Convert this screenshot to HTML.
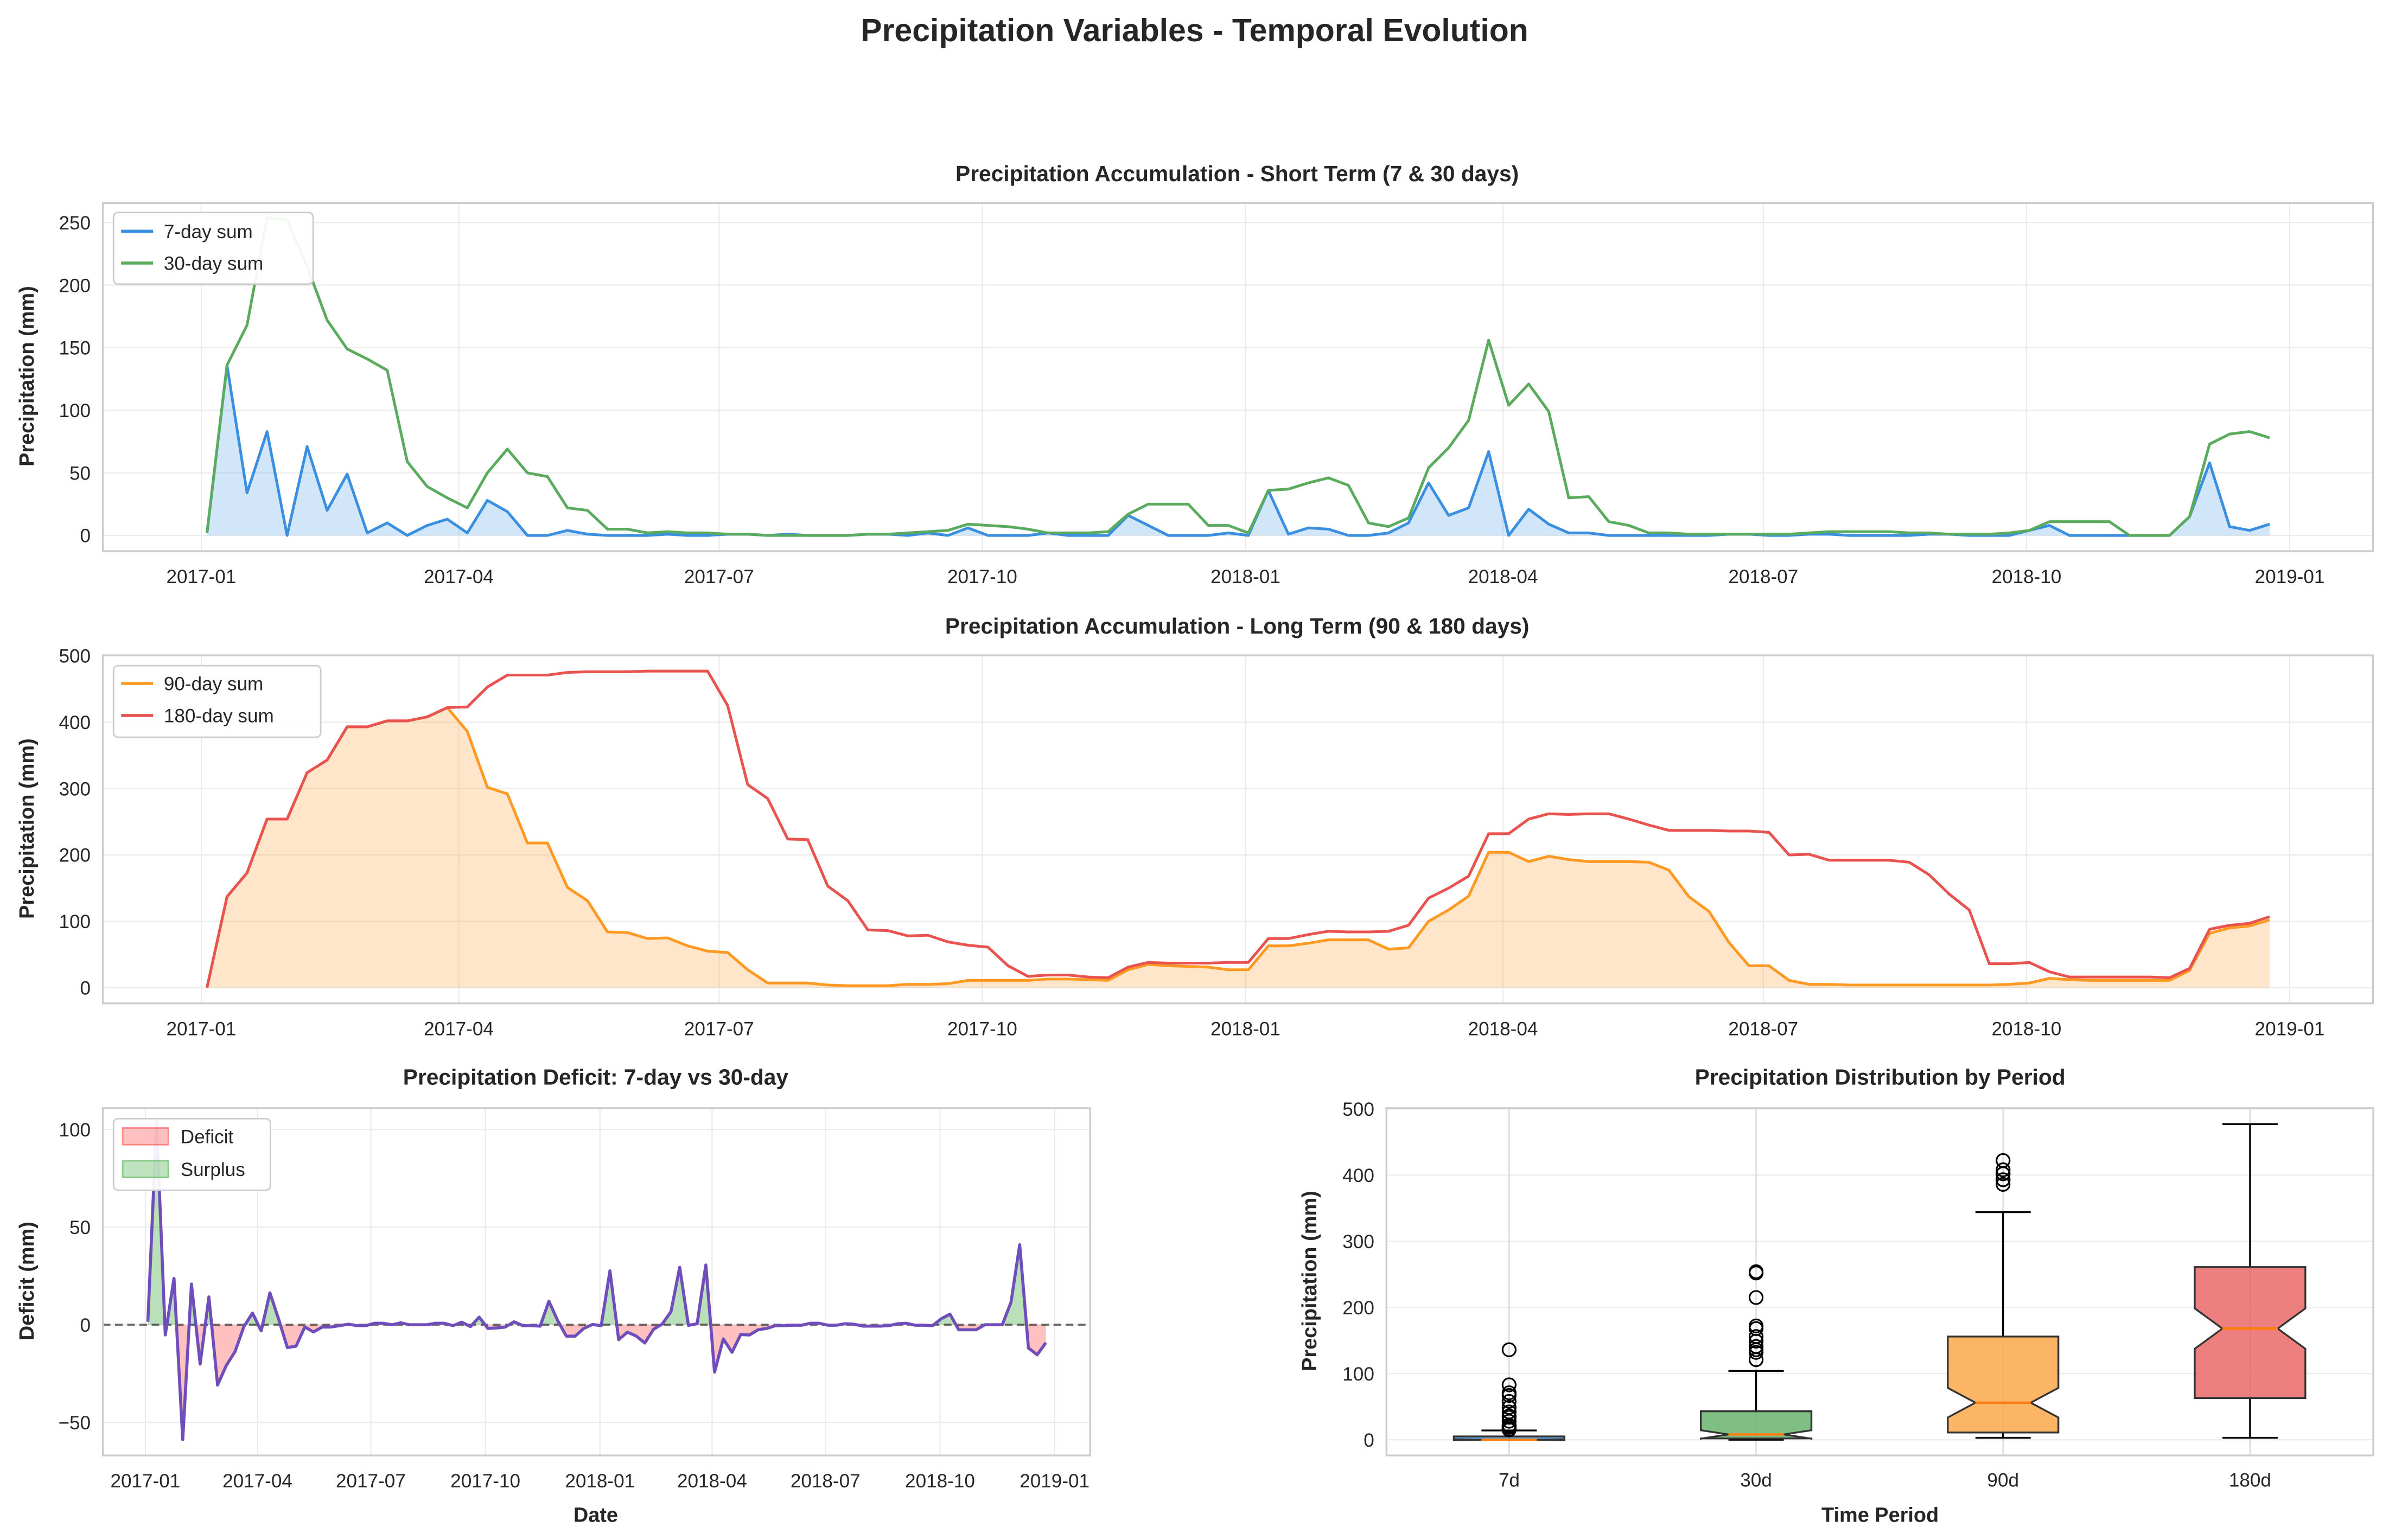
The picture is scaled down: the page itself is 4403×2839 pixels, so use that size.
<!DOCTYPE html>
<html><head><meta charset="utf-8"><title>Precipitation Variables</title>
<style>
html,body{margin:0;padding:0;background:#fff;}
svg{display:block;font-family:"Liberation Sans",Arial,sans-serif;}
</style></head>
<body>
<svg id="fig" width="4403" height="2839" viewBox="0 0 1568 1011" xmlns="http://www.w3.org/2000/svg">
<rect x="0" y="0" width="1568" height="1011" fill="#fff"/>
<text x="784" y="27" text-anchor="middle" font-size="21" font-weight="bold" fill="#262626">Precipitation Variables - Temporal Evolution</text>
<g id="g1"></g>
<g id="g2"></g>
<g id="g3"></g>
<g id="g4"></g>
</svg>
<script>
const d7 = [2,136,34,83,0,71,20,49,2,10, 0,8,13,2,28,19,0,0,4,1, 0,0,0,1,0,0,1,1,0,1, 0,0,0,1,1,0,2,0,6,0, 0,0,2,0,0,0,16,8,0,0, 0,2,0,36,1,6,5,0,0,2, 10,42,16,22,67,0,21,9,2,2, 0,0,0,0,0,0,1,1,0,0, 1,1,0,0,0,0,1,1,0,0, 0,4,8,0,0,0,0,0,0,15, 58,7,4,9];
const d30 = [2,136,168,254,252,215,172,149,141,132, 59,39,30,22,50,69,50,47,22,20, 5,5,2,3,2,2,1,1,0,0, 0,0,0,1,1,2,3,4,9,8, 7,5,2,2,2,3,17,25,25,25, 8,8,2,36,37,42,46,40,10,7, 14,54,70,92,156,104,121,99,30,31, 11,8,2,2,1,1,1,1,1,1, 2,3,3,3,3,2,2,1,1,1, 2,4,11,11,11,11,0,0,0,15, 73,81,83,78];
const d90 = [0,137,173,254,254,324,343,393,393,402, 402,408,422,386,302,292,218,218,151,131, 84,83,74,75,63,55,53,27,7,7, 7,4,3,3,3,5,5,6,11,11, 11,11,13,13,12,11,27,35,33,32, 31,27,27,63,63,67,72,72,72,58, 60,100,117,138,204,204,190,198,193,190, 190,190,189,177,137,115,68,33,33,11, 5,5,4,4,4,4,4,4,4,4, 5,7,14,12,11,11,11,11,11,26, 82,90,93,102];
const d180 = [0,137,173,254,254,324,343,393,393,402, 402,408,422,423,453,471,471,471,475,476, 476,476,477,477,477,477,425,306,285,224, 223,153,131,87,86,78,79,69,64,61, 33,17,19,19,16,15,31,38,37,37, 37,38,38,74,74,80,85,84,84,85, 94,135,150,168,232,232,254,262,261,262, 262,254,245,237,237,237,236,236,234,200, 201,192,192,192,192,189,170,141,117,36, 36,38,24,16,16,16,16,16,15,29, 88,94,97,107];
const startDay = 2, stepDays = 7; // days since 2017-01-01
const dateTickLabels = ["2017-01","2017-04","2017-07","2017-10","2018-01","2018-04","2018-07","2018-10","2019-01"];
const dateTickDays = [0,90,181,273,365,455,546,638,730];
const boxCats = ["7d","30d","90d","180d"];
const boxQ1 = [0,2,11,63];
const boxMed = [0,8,56,168];
const boxQ3 = [5,43,156,261];
const boxLo = [0,0,3,3];
const boxHi = [14,104,344,477];
const shortTicks = [0,50,100,150,200,250];
const longTicks = [0,100,200,300,400,500];
const defTicks = [-50,0,50,100];
const boxTicks = [0,100,200,300,400,500];

const NS = "http://www.w3.org/2000/svg";
function mk(parent, tag, attrs){const e=document.createElementNS(NS,tag);for(const k in attrs)e.setAttribute(k,attrs[k]);parent.appendChild(e);return e;}
function txt(parent, x, y, s, size, anchor, weight, extra){const t=mk(parent,"text",{x:x,y:y,"font-size":size,"text-anchor":anchor||"middle","font-weight":weight||"normal",fill:"#262626"});if(extra)for(const k in extra)t.setAttribute(k,extra[k]);t.textContent=s;return t;}
const N = d7.length;
const dayOf = i => startDay + stepDays*i;

function timePanel(g, box, ymin, ymax, yticks, xs){
  const ys = v => box.b0 - (v)*box.k;
  mk(g,"rect",{x:box.l,y:box.t,width:box.r-box.l,height:box.b-box.t,fill:"#fff"});
  dateTickDays.forEach((d,i)=>{const x=xs(d);
    const gl=mk(g,"line",{x1:x,x2:x,y1:box.t,y2:box.b,stroke:"#ebebeb","stroke-width":0.8});
    
    
    const t=txt(g,x,box.b+box.tickDy,dateTickLabels[i],box.fs||12.5,"middle");
    
    
  });
  yticks.forEach(v=>{const y=ys(v); if(y<box.t-1||y>box.b+1)return;
    const gl=mk(g,"line",{x1:box.l,x2:box.r,y1:y,y2:y,stroke:"#ebebeb","stroke-width":0.8});
    
    
    const t=txt(g,box.l-8,y+4.5,String(v).replace("-","−"),box.fs||12.5,"end");
    
    
  });
  return ys;
}
function linePts(arr, xs, ys){return arr.map((v,i)=>xs(dayOf(i)).toFixed(2)+","+ys(v).toFixed(2)).join(" ");}
function areaPts(arr, xs, ys){return xs(dayOf(0)).toFixed(2)+","+ys(0)+" "+linePts(arr,xs,ys)+" "+xs(dayOf(N-1)).toFixed(2)+","+ys(0);}
function frame(g,box){const f=mk(g,"rect",{x:box.l,y:box.t,width:box.r-box.l,height:box.b-box.t,fill:"none",stroke:"#cccccc","stroke-width":1.2});
  
  }
function legend(g, x, y, w, h, entries){
  const r=mk(g,"rect",{x:x,y:y,width:w,height:h,rx:3,fill:"#fff","fill-opacity":0.92,stroke:"#cccccc","stroke-width":1});
  
  
  entries.forEach(e=>{
    const eg=mk(g,"g",{});
    
    
    if(e.patch){mk(eg,"rect",{x:x+6,y:e.y-5.5,width:30,height:11,fill:e.color,"fill-opacity":0.3,stroke:e.color,"stroke-opacity":0.5,"stroke-width":1});}
    else {mk(eg,"line",{x1:x+5,x2:x+26,y1:e.y,y2:e.y,stroke:e.color,"stroke-width":2});}
    txt(eg,x+(e.patch?44:33),e.y+4.5,e.label,12.5,"start");
  });
}

// ---------- Panel 1
(function(){
  const g=document.getElementById("g1");
  const box={l:67.5,r:1557.5,t:133.3,b:361.8,b0:351.5,k:0.8216,tickDy:21};
  const xs=d=>132.1+1.8777*d;
  const ys=timePanel(g,box,0,260,shortTicks,xs);
  const a=mk(g,"polygon",{points:areaPts(d7,xs,ys),fill:"#4a9be6","fill-opacity":0.25});
  
  
  const l1=mk(g,"polyline",{points:linePts(d7,xs,ys),fill:"none",stroke:"#3a8fe0","stroke-width":1.8,"stroke-linejoin":"round"});
  
  
  const l2=mk(g,"polyline",{points:linePts(d30,xs,ys),fill:"none",stroke:"#5aab5e","stroke-width":1.8,"stroke-linejoin":"round"});
  
  
  frame(g,box);
  legend(g,74.5,139.5,131,47,[{y:151.8,label:"7-day sum",color:"#3a8fe0"},{y:172.7,label:"30-day sum",color:"#5aab5e"}]);
  txt(g,812,119,"Precipitation Accumulation - Short Term (7 & 30 days)",14.5,"middle","bold",{});
  txt(g,0,0,"Precipitation (mm)",13.5,"middle","bold",{transform:"translate(22,247) rotate(-90)",});
})();

// ---------- Panel 2
(function(){
  const g=document.getElementById("g2");
  const box={l:67.5,r:1557.5,t:430.2,b:658.7,b0:648.4,k:0.4357,tickDy:21};
  const xs=d=>132.1+1.8777*d;
  const ys=timePanel(g,box,0,500,longTicks,xs);
  const a=mk(g,"polygon",{points:areaPts(d90,xs,ys),fill:"#ff9a2e","fill-opacity":0.25});
  
  
  const l1=mk(g,"polyline",{points:linePts(d90,xs,ys),fill:"none",stroke:"#ff9922","stroke-width":1.8,"stroke-linejoin":"round"});
  
  
  const l2=mk(g,"polyline",{points:linePts(d180,xs,ys),fill:"none",stroke:"#e8524f","stroke-width":1.8,"stroke-linejoin":"round"});
  
  
  frame(g,box);
  legend(g,74.5,437,136,47,[{y:448.7,label:"90-day sum",color:"#ff9922"},{y:469.7,label:"180-day sum",color:"#e8524f"}]);
  txt(g,812,416,"Precipitation Accumulation - Long Term (90 & 180 days)",14.5,"middle","bold",{});
  txt(g,0,0,"Precipitation (mm)",13.5,"middle","bold",{transform:"translate(22,544) rotate(-90)",});
})();

// ---------- Panel 3 (deficit derived from 7-day and 30-day arrays)
(function(){
  const g=document.getElementById("g3");
  const def=d7.map((v,i)=>v-d30[i]*7/30);
  const box={l:67.5,r:715.5,t:727.5,b:955.5,b0:869.7,k:1.282,tickDy:21};
  const xs=d=>95.4+0.8175*d;
  const ys=timePanel(g,box,-66,111,defTicks,xs);
  const defs=mk(g,"defs",{});
  const c1=mk(defs,"clipPath",{id:"above"});mk(c1,"rect",{x:0,y:0,width:1568,height:ys(0)});
  const c2=mk(defs,"clipPath",{id:"below"});mk(c2,"rect",{x:0,y:ys(0),width:1568,height:400});
  const pos=mk(g,"polygon",{points:areaPts(def,xs,ys),fill:"#2ca02c","fill-opacity":0.33,"clip-path":"url(#above)"});
  
  
  const neg=mk(g,"polygon",{points:areaPts(def,xs,ys),fill:"#ff3030","fill-opacity":0.3,"clip-path":"url(#below)"});
  
  
  const z=mk(g,"line",{x1:box.l,x2:box.r,y1:ys(0),y2:ys(0),stroke:"#000","stroke-opacity":0.55,"stroke-width":1.4,"stroke-dasharray":"5,3"});
  
  
  const l=mk(g,"polyline",{points:linePts(def,xs,ys),fill:"none",stroke:"#6f4ebc","stroke-width":2,"stroke-linejoin":"round"});
  
  
  frame(g,box);
  legend(g,74.5,734.4,103,47,[{y:746,label:"Deficit",color:"#ff3030",patch:true},{y:767.5,label:"Surplus",color:"#2ca02c",patch:true}]);
  txt(g,391,712,"Precipitation Deficit: 7-day vs 30-day",14.5,"middle","bold",{});
  txt(g,391,999,"Date",13.5,"middle","bold",{});
  txt(g,0,0,"Deficit (mm)",13.5,"middle","bold",{transform:"translate(22,841) rotate(-90)",});
})();

// ---------- Panel 4 boxplot
(function(){
  const g=document.getElementById("g4");
  const box={l:910,r:1557.7,t:727.5,b:955.5};
  const ys=v=>945.2-v*0.4344;
  const xc=i=>990.5+162.1*i;
  const hw=36.3;
  const series=[d7,d30,d90,d180];
  const fills=["#4a90d9","#6ab46e","#fba84a","#ea6a68"];
  mk(g,"rect",{x:box.l,y:box.t,width:box.r-box.l,height:box.b-box.t,fill:"#fff"});
  boxTicks.forEach(v=>{const y=ys(v);
    const gl=mk(g,"line",{x1:box.l,x2:box.r,y1:y,y2:y,stroke:"#ebebeb","stroke-width":0.8});
    
    
    const t=txt(g,box.l-8,y+4.5,String(v),12.5,"end");
    
    
  });
  boxCats.forEach((c,i)=>{const x=xc(i);
    const gl=mk(g,"line",{x1:x,x2:x,y1:box.t,y2:box.b,stroke:"#d5d5d5","stroke-width":0.8});
    
    
    const t=txt(g,x,976,c,12.5,"middle");
    
    
  });
  boxCats.forEach((c,i)=>{
    const bg=mk(g,"g",{});
    
    
    const x=xc(i), q1=boxQ1[i], q3=boxQ3[i], md=boxMed[i];
    const nh=1.57*(q3-q1)/Math.sqrt(series[i].length);
    const nlo=md-nh, nhi=md+nh;
    mk(bg,"line",{x1:x,x2:x,y1:ys(q1),y2:ys(boxLo[i]),stroke:"#000","stroke-width":1.2});
    mk(bg,"line",{x1:x,x2:x,y1:ys(q3),y2:ys(boxHi[i]),stroke:"#000","stroke-width":1.2});
    mk(bg,"line",{x1:x-hw/2,x2:x+hw/2,y1:ys(boxLo[i]),y2:ys(boxLo[i]),stroke:"#000","stroke-width":1.2});
    mk(bg,"line",{x1:x-hw/2,x2:x+hw/2,y1:ys(boxHi[i]),y2:ys(boxHi[i]),stroke:"#000","stroke-width":1.2});
    const L=x-hw,R=x+hw;
    const pts=[[L,q1],[R,q1],[R,nlo],[x+hw/2,md],[R,nhi],[R,q3],[L,q3],[L,nhi],[x-hw/2,md],[L,nlo]];
    mk(bg,"polygon",{points:pts.map(p=>p[0].toFixed(2)+","+ys(p[1]).toFixed(2)).join(" "),fill:fills[i],"fill-opacity":0.85,stroke:"#333","stroke-width":1.2});
    mk(bg,"line",{x1:x-hw/2,x2:x+hw/2,y1:ys(md),y2:ys(md),stroke:"#ff7f0e","stroke-width":1.6});
    series[i].forEach(v=>{ if(v>boxHi[i]){
      const f=mk(bg,"circle",{cx:x,cy:ys(v),r:4.3,fill:"none",stroke:"#000","stroke-width":1.1});
      
      
    }});
  });
  const f=mk(g,"rect",{x:box.l,y:box.t,width:box.r-box.l,height:box.b-box.t,fill:"none",stroke:"#cccccc","stroke-width":1.2});
  
  
  txt(g,1234,712,"Precipitation Distribution by Period",14.5,"middle","bold",{});
  txt(g,1234,999,"Time Period",13.5,"middle","bold",{});
  txt(g,0,0,"Precipitation (mm)",13.5,"middle","bold",{transform:"translate(864,841) rotate(-90)",});
})();
</script>
</body></html>
